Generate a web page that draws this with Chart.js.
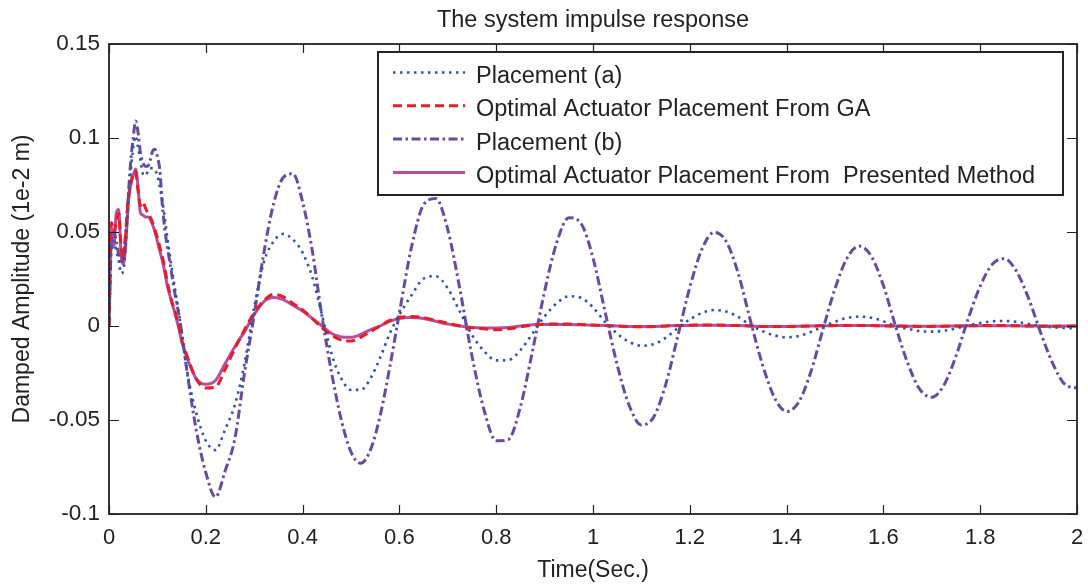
<!DOCTYPE html>
<html>
<head>
<meta charset="utf-8">
<title>The system impulse response</title>
<script src="https://cdn.jsdelivr.net/npm/chart.js@4.4.1/dist/chart.umd.min.js"></script>
<style>
    html, body { margin: 0; padding: 0; background: #ffffff; }
    #caixa { width: 1088px; height: 584px; }
</style>
</head>
<body>
<div id="caixa"><canvas id="respostaImpulso" width="1088" height="584"></canvas></div>
<script>
// Eixo do tempo (s): mais denso no início, onde as curvas mudam rápido
const tempo = [
    0, 0.005, 0.01, 0.015, 0.02, 0.025, 0.03, 0.035, 0.04, 0.045, 0.05, 0.055, 0.06, 0.065, 0.07, 0.075,
    0.08, 0.085, 0.09, 0.095, 0.1, 0.105, 0.11, 0.115, 0.12, 0.125, 0.13, 0.135, 0.14, 0.145, 0.15,
    0.16, 0.18, 0.2, 0.22, 0.24, 0.26, 0.28, 0.3, 0.32, 0.34, 0.36, 0.38, 0.4, 0.42, 0.44, 0.46, 0.48,
    0.5, 0.52, 0.54, 0.56, 0.58, 0.6,
    0.625, 0.65, 0.675, 0.7, 0.725, 0.75, 0.775, 0.8, 0.825, 0.85, 0.875, 0.9, 0.925, 0.95, 0.975, 1,
    1.025, 1.05, 1.075, 1.1, 1.125, 1.15, 1.175, 1.2, 1.225, 1.25, 1.275, 1.3, 1.325, 1.35, 1.375, 1.4,
    1.425, 1.45, 1.475, 1.5, 1.525, 1.55, 1.575, 1.6, 1.625, 1.65, 1.675, 1.7, 1.725, 1.75, 1.775, 1.8,
    1.825, 1.85, 1.875, 1.9, 1.925, 1.95, 1.975, 2
];

// Placement (a)
const posicaoA = [
    0, 0.04, 0.045, 0.04, 0.035, 0.028, 0.03, 0.045, 0.065, 0.082, 0.095, 0.101, 0.095, 0.088, 0.081, 0.08,
    0.082, 0.084, 0.084, 0.083, 0.08, 0.074, 0.067, 0.058, 0.048, 0.039, 0.03, 0.022, 0.014, 0.006, -0.003,
    -0.022, -0.046, -0.061, -0.066, -0.055, -0.042, -0.02, 0.01, 0.034, 0.045, 0.049, 0.046, 0.039, 0.026, 0.006, -0.015, -0.028,
    -0.034, -0.034, -0.028, -0.017, -0.004, 0.006,
    0.0164, 0.0252, 0.0265, 0.02, 0.0076, -0.0048, -0.0134, -0.0183, -0.0181, -0.0129, -0.004, 0.0051, 0.0121, 0.0158, 0.015, 0.0099,
    0.0021, -0.0041, -0.0085, -0.0105, -0.0097, -0.0063, -0.0011, 0.0035, 0.0069, 0.0085, 0.0077, 0.0048, 0.0005, -0.0027, -0.005, -0.006,
    -0.0053, -0.0032, -0.0003, 0.0023, 0.0043, 0.005, 0.0044, 0.0025, 0, -0.0015, -0.0027, -0.003, -0.0025, -0.0013, 0.0003, 0.0016,
    0.0025, 0.0027, 0.0022, 0.0011, -0.0001, -0.0007, -0.0011, -0.0012
];

// Optimal Actuator Placement From GA
const otimoGA = [
    0, 0.055, 0.05, 0.055, 0.06, 0.042, 0.036, 0.05, 0.068, 0.076, 0.081, 0.082, 0.072, 0.064, 0.066, 0.063,
    0.06, 0.058, 0.055, 0.051, 0.047, 0.042, 0.037, 0.031, 0.024, 0.018, 0.013, 0.009, 0.004, -0.001, -0.007,
    -0.015, -0.028, -0.033, -0.0325, -0.023, -0.012, -0.002, 0.007, 0.0135, 0.0168, 0.0155, 0.012, 0.0085, 0.004, -0.001, -0.005, -0.0075,
    -0.008, -0.006, -0.003, 0, 0.003, 0.0045,
    0.005, 0.0045, 0.003, 0.0015, 0, -0.001, -0.0015, -0.002, -0.0015, -0.0005, 0.0005, 0.001, 0.001, 0.001, 0.0008, 0.0005,
    0.0002, 0, -0.0003, -0.0004, -0.0003, 0, 0.0002, 0.0004, 0.0005, 0.0005, 0.0004, 0.0002, 0, -0.0002, -0.0003, -0.0003,
    -0.0002, 0, 0.0001, 0.0002, 0.0003, 0.0003, 0.0002, 0.0001, 0, -0.0001, -0.0002, -0.0002, -0.0001, 0, 0.0001, 0.0002,
    0.0002, 0.0002, 0.0001, 0, -0.0001, -0.0001, -0.0001, 0
];

// Placement (b)
const posicaoB = [
    0, 0.045, 0.05, 0.045, 0.038, 0.033, 0.038, 0.052, 0.07, 0.088, 0.1, 0.109, 0.103, 0.092, 0.087, 0.085,
    0.085, 0.088, 0.093, 0.094, 0.09, 0.083, 0.065, 0.052, 0.043, 0.035, 0.027, 0.019, 0.012, 0.005, -0.003,
    -0.022, -0.055, -0.078, -0.091, -0.077, -0.06, -0.025, 0.006, 0.039, 0.065, 0.079, 0.081, 0.066, 0.04, 0.005, -0.025, -0.05,
    -0.067, -0.073, -0.066, -0.048, -0.022, 0.007,
    0.042, 0.0645, 0.0678, 0.0513, 0.0195, -0.016, -0.0448, -0.0611, -0.0604, -0.043, -0.0133, 0.0185, 0.0443, 0.0576, 0.0547, 0.0362,
    0.0075, -0.0207, -0.0424, -0.0526, -0.0486, -0.0313, -0.0056, 0.0206, 0.0408, 0.0498, 0.0451, 0.028, 0.0031, -0.0204, -0.0381, -0.0455,
    -0.0405, -0.0245, -0.0019, 0.0199, 0.0362, 0.0425, 0.0371, 0.0215, 0, -0.0196, -0.0336, -0.0379, -0.0315, -0.016, 0.0038, 0.0212,
    0.0329, 0.0358, 0.0291, 0.0147, -0.0036, -0.02, -0.0311, -0.033
];

// Optimal Actuator Placement From  Presented Method
const otimoMetodo = [
    0, 0.052, 0.042, 0.06, 0.062, 0.038, 0.033, 0.045, 0.066, 0.075, 0.08, 0.0835, 0.074, 0.06, 0.059, 0.058,
    0.058, 0.057, 0.054, 0.05, 0.045, 0.04, 0.035, 0.029, 0.022, 0.017, 0.012, 0.008, 0.003, -0.002, -0.008,
    -0.016, -0.028, -0.031, -0.029, -0.02, -0.011, -0.003, 0.006, 0.013, 0.0152, 0.014, 0.011, 0.008, 0.004, 0, -0.004, -0.0058,
    -0.006, -0.0045, -0.002, 0, 0.0025, 0.004,
    0.0045, 0.004, 0.0025, 0.001, 0, -0.0008, -0.001, -0.001, -0.0008, 0, 0.0006, 0.0008, 0.0008, 0.0008, 0.0006, 0.0004,
    0.0002, 0, -0.0002, -0.0003, -0.0002, 0, 0.0002, 0.0003, 0.0004, 0.0004, 0.0003, 0.0002, 0, -0.0002, -0.0002, -0.0002,
    -0.0001, 0, 0.0001, 0.0002, 0.0002, 0.0002, 0.0002, 0.0001, 0, -0.0001, -0.0001, -0.0001, -0.0001, 0, 0.0001, 0.0001,
    0.0001, 0.0001, 0.0001, 0, 0, -0.0001, 0, 0
];

const nomesSeries = [
    "Placement (a)",
    "Optimal Actuator Placement From GA",
    "Placement (b)",
    "Optimal Actuator Placement From  Presented Method"
];

const xTicks = [0, 0.2, 0.4, 0.6, 0.8, 1, 1.2, 1.4, 1.6, 1.8, 2];
const xTickLabels = ["0", "0.2", "0.4", "0.6", "0.8", "1", "1.2", "1.4", "1.6", "1.8", "2"];
const yTicks = [-0.1, -0.05, 0, 0.05, 0.1, 0.15];
const yTickLabels = ["-0.1", "-0.05", "0", "0.05", "0.1", "0.15"];

const tituloGrafico = "The system impulse response";
const tituloX = "Time(Sec.)";
const tituloY = "Damped Amplitude (1e-2 m)";

const fonte = '"Liberation Sans", Arial, Helvetica, sans-serif';

// Montar pares {x, y} a partir do eixo do tempo
function pontos(valores) {
    return tempo.map((t, i) => ({ x: t, y: valores[i] }));
}

// Moldura, marcas internas, legenda e título no estilo MATLAB
const molduraPlugin = {
    id: "moldura",
    afterDraw(chart) {
        const ctx = chart.ctx;
        const area = chart.chartArea;
        const sx = chart.scales.x;
        const sy = chart.scales.y;

        ctx.save();
        ctx.strokeStyle = "#222222";
        ctx.lineWidth = 1.8;
        ctx.strokeRect(area.left, area.top, area.right - area.left, area.bottom - area.top);

        // Marcas dos ticks para dentro, nos quatro lados
        ctx.lineWidth = 1.2;
        ctx.beginPath();
        xTicks.forEach(v => {
            const px = Math.round(sx.getPixelForValue(v)) + 0.5;
            ctx.moveTo(px, area.bottom);
            ctx.lineTo(px, area.bottom - 9);
            ctx.moveTo(px, area.top);
            ctx.lineTo(px, area.top + 9);
        });
        yTicks.forEach(v => {
            const py = Math.round(sy.getPixelForValue(v)) + 0.5;
            ctx.moveTo(area.left, py);
            ctx.lineTo(area.left + 10, py);
            ctx.moveTo(area.right, py);
            ctx.lineTo(area.right - 10, py);
        });
        ctx.stroke();

        // Legenda dentro da área do gráfico
        const lx = area.left + 269;
        const ly = area.top + 8;
        const lw = area.right - 14 - lx;
        const lh = 143;
        ctx.fillStyle = "#ffffff";
        ctx.fillRect(lx, ly, lw, lh);
        ctx.strokeStyle = "#222222";
        ctx.lineWidth = 2;
        ctx.strokeRect(lx, ly, lw, lh);

        ctx.font = "23.5px " + fonte;
        ctx.textAlign = "left";
        ctx.textBaseline = "alphabetic";
        chart.data.datasets.forEach((ds, i) => {
            const base = ly + 31 + i * 33.3;
            const yLinha = base - 10.5;
            ctx.strokeStyle = ds.borderColor;
            ctx.lineWidth = ds.borderWidth;
            ctx.setLineDash(ds.borderDash || []);
            ctx.beginPath();
            ctx.moveTo(lx + 15, yLinha);
            ctx.lineTo(lx + 87, yLinha);
            ctx.stroke();
            ctx.setLineDash([]);
            ctx.fillStyle = "#222222";
            ctx.fillText(nomesSeries[i], lx + 98, base);
        });

        // Título centrado sobre a área do gráfico
        ctx.font = "23.5px " + fonte;
        ctx.textAlign = "center";
        ctx.fillStyle = "#222222";
        ctx.fillText(tituloGrafico, (area.left + area.right) / 2, 27);
        ctx.restore();
    }
};

function carregarGraficoResposta() {
    const ctx = document.getElementById("respostaImpulso").getContext("2d");

    window.respostaChart = new Chart(ctx, {
        type: "line",
        data: {
            datasets: [{
                label: nomesSeries[0],
                data: pontos(posicaoA),
                borderColor: "#2f56a6",
                borderWidth: 2.6,
                borderDash: [2.5, 4.5],
            }, {
                label: nomesSeries[1],
                data: pontos(otimoGA),
                borderColor: "#ec1c24",
                borderWidth: 3,
                borderDash: [9, 5],
            }, {
                label: nomesSeries[2],
                data: pontos(posicaoB),
                borderColor: "#6a4a9e",
                borderWidth: 3,
                borderDash: [9, 3.5, 2.5, 3.5],
            }, {
                label: nomesSeries[3],
                data: pontos(otimoMetodo),
                borderColor: "#b54fa3",
                borderWidth: 3,
            }],
        },
        options: {
            responsive: false,
            animation: false,
            devicePixelRatio: 1,
            layout: { padding: { top: 44, right: 11, left: 0, bottom: 0 } },
            elements: {
                point: { radius: 0 },
                line: { cubicInterpolationMode: "monotone", borderCapStyle: "butt", fill: false },
            },
            plugins: {
                legend: { display: false },
                title: { display: false },
                tooltip: { enabled: false },
            },
            scales: {
                x: {
                    type: "linear",
                    min: 0,
                    max: 2,
                    afterBuildTicks: scale => { scale.ticks = xTicks.map(v => ({ value: v })); },
                    afterFit: scale => {
                        // Altura fixa e sem folga extra à direita para o rótulo "2"
                        scale.height = 70;
                        scale.paddingRight = 0;
                        scale.paddingLeft = 0;
                    },
                    grid: { display: false, drawTicks: false },
                    border: { display: false },
                    ticks: {
                        padding: 11,
                        color: "#222222",
                        font: { family: fonte, size: 22 },
                        maxRotation: 0,
                        callback: (valor, indice) => xTickLabels[indice],
                    },
                    title: {
                        display: true,
                        text: tituloX,
                        color: "#222222",
                        font: { family: fonte, size: 23 },
                        padding: { top: 0, bottom: 0 },
                    },
                },
                y: {
                    type: "linear",
                    min: -0.1,
                    max: 0.15,
                    afterBuildTicks: scale => { scale.ticks = yTicks.map(v => ({ value: v })); },
                    afterFit: scale => { scale.width = 109; },
                    grid: { display: false, drawTicks: false },
                    border: { display: false },
                    ticks: {
                        padding: 9,
                        color: "#222222",
                        font: { family: fonte, size: 22.5 },
                        callback: (valor, indice) => yTickLabels[indice],
                    },
                    title: {
                        display: true,
                        text: tituloY,
                        color: "#222222",
                        font: { family: fonte, size: 23 },
                        padding: { top: 9, bottom: 0 },
                    },
                },
            },
        },
        plugins: [molduraPlugin],
    });
}

// Chama a função ao carregar a página
document.addEventListener("DOMContentLoaded", function() {
    carregarGraficoResposta();
});
</script>
</body>
</html>
